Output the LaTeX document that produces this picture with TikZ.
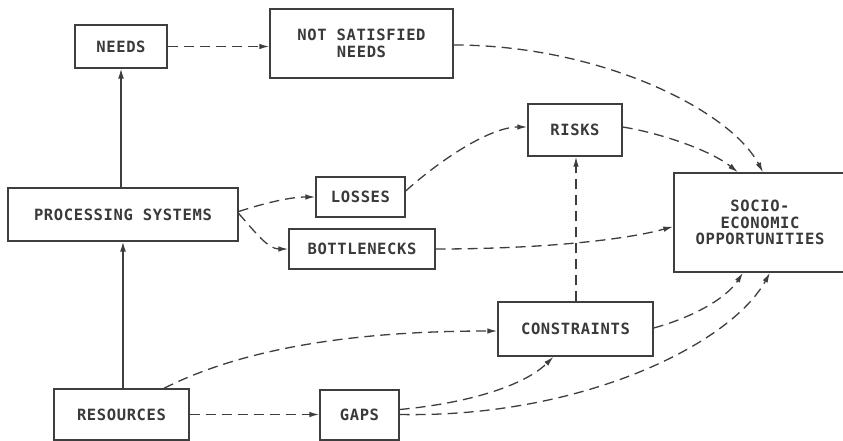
\documentclass[tikz,border=0pt]{standalone}
\usepackage{fontspec}
\newfontfamily\dg[LetterSpace=4]{DejaVu Sans Mono}
\usetikzlibrary{arrows.meta,calc}
\definecolor{linec}{HTML}{3E3E3E}
\definecolor{textc}{HTML}{3A3A3A}
\tikzset{
  box/.style={draw=linec, line width=1.4pt, inner sep=0pt, align=center, text=textc,
    font=\dg\bfseries\fontsize{15.5}{16.5}\selectfont},
  solidarrow/.style={draw=linec, line width=1.4pt, -{Latex[length=10pt,width=6pt]}},
  dasharrow/.style={draw=linec, line width=1.3pt, dash pattern=on 10pt off 6pt, -{Latex[length=10pt,width=5.5pt]}}
}
\begin{document}
\begin{tikzpicture}[x=1pt,y=-1pt]
\useasboundingbox (0,0) rectangle (843,441);
\clip (0,0) rectangle (843,441);
\fill[white] (0,0) rectangle (843,441);
\node[box, minimum width=92pt, minimum height=43pt] (needs) at (121,46.5) {NEEDS};
\node[box, minimum width=183pt, minimum height=69pt] (nsn) at (361.5,43.5) {NOT SATISFIED\\NEEDS};
\node[box, minimum width=94pt, minimum height=52pt] (risks) at (575,130) {RISKS};
\node[box, minimum width=172pt, minimum height=99pt] (socio) at (760,222.5) {SOCIO-\\ECONOMIC\\OPPORTUNITIES};
\node[box, minimum width=230pt, minimum height=53pt] (proc) at (123,214.5) {PROCESSING SYSTEMS};
\node[box, minimum width=89pt, minimum height=40pt] (losses) at (360.5,197) {LOSSES};
\node[box, minimum width=146pt, minimum height=40pt] (bott) at (362,249) {BOTTLENECKS};
\node[box, minimum width=155pt, minimum height=54pt] (cons) at (575.5,329) {CONSTRAINTS};
\node[box, minimum width=135pt, minimum height=51pt] (res) at (121.5,414.5) {RESOURCES};
\node[box, minimum width=79pt, minimum height=50pt] (gaps) at (359.5,415) {GAPS};

\draw[solidarrow] (proc.north -| needs.south) -- (needs.south);
\draw[solidarrow] (res.north -| proc.south) -- (proc.south);

\draw[dasharrow] (needs.east) -- (needs.east -| nsn.west);
\draw[dasharrow] ($(nsn.east)+(0,1.5)$) .. controls (600,45) and (730,110) .. ($(socio.north)+(3,0)$);
\draw[dasharrow] ($(risks.east)+(0,-3)$) .. controls (660,133) and (710,150) .. ($(socio.north)+(-22,0)$);
\draw[dasharrow] ($(proc.east)+(0,-3)$) .. controls (265,203) and (290,197) .. (losses.west);
\draw[dasharrow] ($(proc.east)+(0,-1)$) .. controls (255,232) and (268,249) .. (bott.west);
\draw[dasharrow] ($(losses.east)+(0,-6)$) .. controls (440,160) and (490,127) .. ($(risks.west)+(0,-3)$);
\draw[dasharrow] ($(cons.north)+(0.5,0)$) -- ($(risks.south)+(1,0)$);
\draw[dasharrow] (bott.east) .. controls (540,249) and (625,240) .. ($(socio.west)+(0,4)$);
\draw[dasharrow] ($(res.north)+(42.5,0)$) .. controls (230,355) and (330,331) .. ($(cons.west)+(0,2)$);
\draw[dasharrow] (res.east) -- (res.east -| gaps.west);
\draw[dasharrow] ($(gaps.east)+(0,-5.5)$) .. controls (470,403) and (525,385) .. ($(cons.south)+(-22,0)$);
\draw[dasharrow] ($(gaps.east)+(0,-0.5)$) .. controls (580,418) and (730,345) .. ($(socio.south)+(10,0)$);
\draw[dasharrow] ($(cons.east)+(0,-1)$) .. controls (690,318) and (725,300) .. ($(socio.south)+(-17,0)$);
\end{tikzpicture}
\end{document}
